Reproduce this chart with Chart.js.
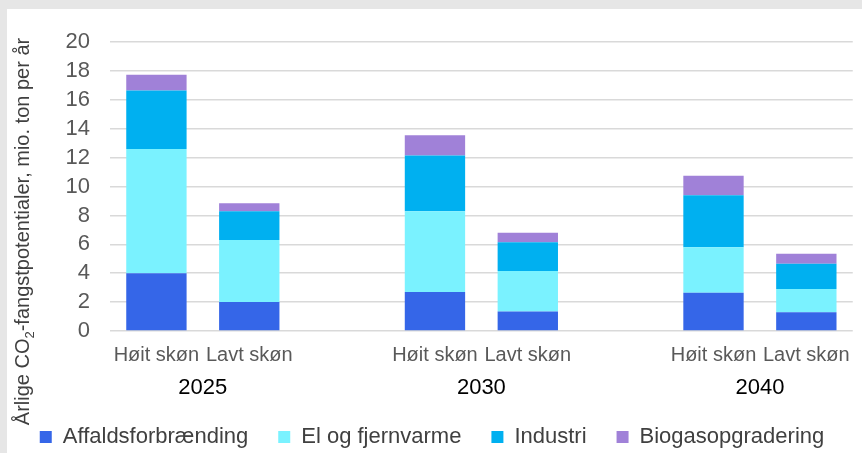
<!DOCTYPE html>
<html lang="da">
<head>
<meta charset="utf-8">
<script src="https://cdn.jsdelivr.net/npm/chart.js@4.4.1/dist/chart.umd.min.js"></script>
<style>
  html, body { margin: 0; padding: 0; background: #e6e6e6; }
  #panel { position: absolute; left: 7px; top: 9px; width: 855px; height: 444px; background: #fff; }
  canvas { display: block; }
</style>
</head>
<body>
<div id="panel"><canvas id="myChart" width="855" height="444"></canvas></div>
<script>
// Kategorier: to skøn per år, med et tomt felt mellem årene
const scenarios = ["Højt skøn", "Lavt skøn", "", "Højt skøn", "Lavt skøn", "", "Højt skøn", "Lavt skøn"];
const years = ["2025", "2030", "2040"];

// mio. ton CO2 per år
const affald = [4.0, 2.0, null, 2.7, 1.35, null, 2.65, 1.3];
const elFjernvarme = [8.6, 4.3, null, 5.6, 2.8, null, 3.15, 1.6];
const industri = [4.05, 2.0, null, 3.85, 2.0, null, 3.6, 1.75];
const biogas = [1.1, 0.55, null, 1.4, 0.65, null, 1.35, 0.7];

const yTicks = [0, 2, 4, 6, 8, 10, 12, 14, 16, 18, 20];

// Y-aksens titel med sænket 2-tal
const yTitlePlugin = {
  id: "yTitle",
  afterDraw(chart) {
    const ctx = chart.ctx;
    const parts = [
      { text: "Årlige CO", size: 20, dy: 0 },
      { text: "2", size: 13, dy: 5 },
      { text: "-fangstpotentialer, mio. ton per år", size: 20, dy: 0 },
    ];
    ctx.save();
    let total = 0;
    parts.forEach((p) => {
      ctx.font = p.size + "px 'Liberation Sans', Arial, sans-serif";
      p.w = ctx.measureText(p.text).width;
      total += p.w;
    });
    const centerY = 222.5;
    ctx.translate(21.5, centerY + total / 2);
    ctx.rotate(-Math.PI / 2);
    ctx.fillStyle = "#404040";
    ctx.textBaseline = "alphabetic";
    ctx.textAlign = "left";
    let x = 0;
    parts.forEach((p) => {
      ctx.font = p.size + "px 'Liberation Sans', Arial, sans-serif";
      ctx.fillText(p.text, x, p.dy);
      x += p.w;
    });
    ctx.restore();
  },
};

const ctx = document.getElementById("myChart").getContext("2d");

new Chart(ctx, {
  type: "bar",
  data: {
    labels: scenarios,
    datasets: [
      { label: "Affaldsforbrænding", data: affald, backgroundColor: "#3566E8" },
      { label: "El og fjernvarme", data: elFjernvarme, backgroundColor: "#7AF2FF" },
      { label: "Industri", data: industri, backgroundColor: "#00B0F0" },
      { label: "Biogasopgradering", data: biogas, backgroundColor: "#A081D8" },
    ],
  },
  options: {
    responsive: false,
    animation: false,
    layout: { padding: { left: 0, right: 5, top: 29, bottom: 0 } },
    datasets: {
      bar: { barPercentage: 0.65, categoryPercentage: 1, borderWidth: 0 },
    },
    font: { family: "'Liberation Sans', Arial, sans-serif" },
    plugins: {
      tooltip: { enabled: false },
      legend: {
        position: "bottom",
        maxHeight: 57,
        labels: {
          boxWidth: 12,
          boxHeight: 12,
          padding: 30,
          color: "#404040",
          font: { size: 22 },
        },
      },
    },
    scales: {
      x: {
        stacked: true,
        weight: 0,
        grid: { display: false, drawTicks: false },
        border: { display: false },
        ticks: { color: "#595959", font: { size: 20 }, padding: 12, maxRotation: 0, autoSkip: false },
        afterFit: (scale) => { scale.height = 30; },
      },
      x2: {
        type: "linear",
        position: "bottom",
        weight: 1,
        offset: false,
        min: -0.5,
        max: scenarios.length - 0.5,
        grid: { display: false, drawTicks: false },
        border: { display: false },
        afterBuildTicks: (scale) => {
          scale.ticks = years.map((y, i) => ({ value: i * 3 + 0.5 }));
        },
        ticks: {
          color: "#000",
          font: { size: 22 },
          padding: 14,
          maxRotation: 0,
          autoSkip: false,
          callback: (value, index) => years[index],
        },
        afterFit: (scale) => { scale.height = 35; },
      },
      y: {
        stacked: true,
        min: 0,
        max: 20,
        grid: { color: "#d9d9d9", lineWidth: 1.5, drawTicks: false },
        border: { display: false },
        afterBuildTicks: (scale) => {
          scale.ticks = yTicks.map((v) => ({ value: v }));
        },
        ticks: { color: "#595959", font: { size: 22 }, padding: 20, autoSkip: false },
        afterFit: (scale) => { scale.width = 103; },
      },
    },
  },
  plugins: [yTitlePlugin],
});
</script>
</body>
</html>
